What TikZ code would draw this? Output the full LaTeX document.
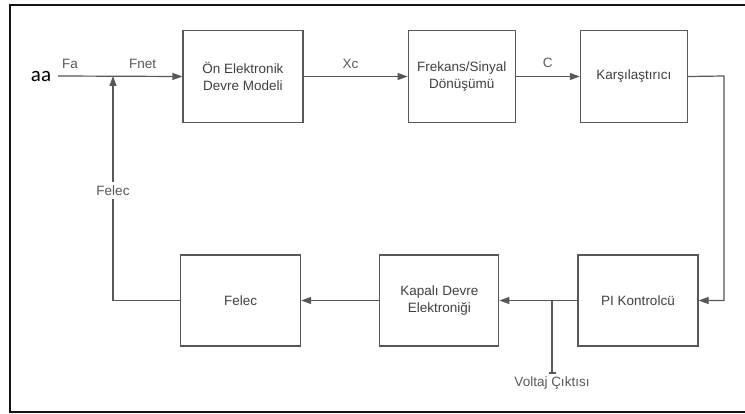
\documentclass[tikz,border=0pt]{standalone}
\usepackage{fontspec}
\setmainfont{Liberation Sans}
\newfontfamily\inpfont{Carlito}
\usetikzlibrary{arrows.meta,positioning}
\definecolor{figline}{RGB}{88,88,88}
\definecolor{figtext}{RGB}{64,64,64}
\definecolor{figframe}{RGB}{20,20,20}

\begin{document}
\begin{tikzpicture}[x=1pt, y=-1pt,
  font=\fontsize{13.5}{17}\selectfont, text=figtext,
  blk/.style={draw=figline, line width=1.2pt, align=center,
    minimum height=92pt, inner sep=2pt},
  arr/.style={-{Triangle[length=10pt, width=7pt]}, figline, line width=1.2pt},
  lbl/.style={inner sep=2pt}]
  \useasboundingbox (0,0) rectangle (745,414);
  \draw[figframe, line width=1.6pt] (747,5) -- (10,5) -- (10,412) -- (747,412);
  % forward path
  \node[blk, minimum width=120pt] (onel) at (243,76.5) {Ön Elektronik\\Devre Modeli};
  \node[blk, minimum width=107pt, right=104pt of onel] (frek) {Frekans/Sinyal\\Dönüşümü};
  \node[blk, minimum width=107pt, right=64pt of frek] (karsi) {Karşılaştırıcı};
  % feedback path
  \node[blk, minimum width=120pt, minimum height=91pt] (pik) at (638,300.5) {PI Kontrolcü};
  \node[blk, minimum width=119pt, minimum height=91pt, left=78pt of pik] (kapali) {Kapalı Devre\\Elektroniği};
  \node[blk, minimum width=120pt, minimum height=91pt, left=78pt of kapali] (felec) {Felec};
  \node[font=\inpfont\fontsize{21}{24}\selectfont, text=black, inner sep=0pt] (aa) at (41,76) {aa};
  \coordinate (inp) at (58,76);
  \coordinate (sum) at (113,76);
  \coordinate (rgt) at (724,76);
  \coordinate (tap) at (552,300);
  \coordinate (vout) at (552,374);
  \draw[arr] (inp) -- node[lbl, pos=0.096, above=5pt] {Fa}
    node[lbl, pos=0.68, above=5pt] {Fnet} (onel.west);
  \draw[arr] (onel) -- node[lbl, pos=0.45, above=5pt] {Xc} (frek);
  \draw[arr] (frek) -- node[lbl, pos=0.5, above=6pt] {C} (karsi);
  \draw[arr] (karsi.east) -- (rgt) |- (pik.east);
  \draw[arr] (pik) -- (kapali);
  \draw[arr] (kapali) -- (felec);
  \draw[arr] (felec.west) -| node[pos=0.745, fill=white, inner sep=4pt] {Felec} (sum);
  \draw[figline, line width=1.2pt, -{Bar[width=7pt, line width=2pt]}] (tap) -- (vout)
    node[below=1pt, inner sep=1pt] (vlbl) {Voltaj Çıktısı};
\end{tikzpicture}
\end{document}
